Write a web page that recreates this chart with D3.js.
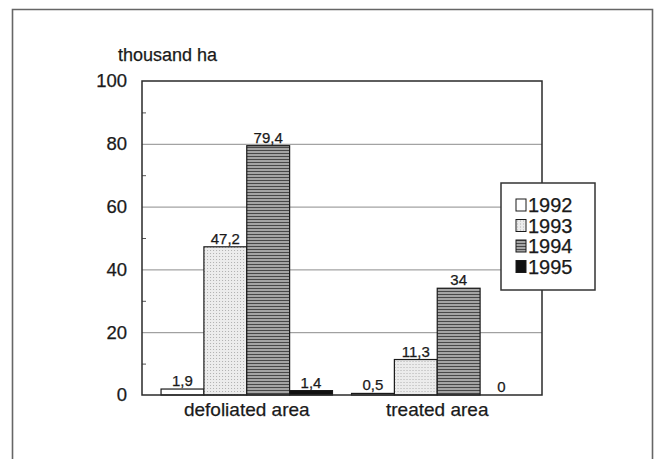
<!DOCTYPE html>
<html>
<head>
<meta charset="utf-8">
<script src="https://cdn.jsdelivr.net/npm/d3@7"></script>
<style>
  html, body { margin: 0; padding: 0; background: #fff; }
  svg { display: block; }
  text { font-family: "Liberation Sans", Arial, sans-serif; fill: #1a1a1a; stroke: #1a1a1a; stroke-width: 0.25px; }
</style>
</head>
<body>
<svg id="chart" width="663" height="459"></svg>
<script>
// Areas affected per year, thousand ha
const categories = ["defoliated area", "treated area"];
const years = ["1992", "1993", "1994", "1995"];
const values1992 = [1.9, 0.5];
const values1993 = [47.2, 11.3];
const values1994 = [79.4, 34];
const values1995 = [1.4, 0];
const yTicks = [0, 20, 40, 60, 80, 100];
const yMinorTicks = [10, 30, 50, 70, 90];
const unitLabel = "thousand ha";

const seriesValues = [values1992, values1993, values1994, values1995];
const rows = categories.map((c, i) => ({
  category: c,
  bars: years.map((y, j) => ({ year: y, value: seriesValues[j][i] }))
}));

const svg = d3.select("#chart");
const plot = { left: 142, right: 542, top: 81, bottom: 395 };

// Fill patterns for the four years
const defs = svg.append("defs");
const p93 = defs.append("pattern").attr("id", "fill1993")
  .attr("patternUnits", "userSpaceOnUse").attr("width", 3).attr("height", 3);
p93.append("rect").attr("width", 3).attr("height", 3).attr("fill", "#ececec");
p93.append("rect").attr("x", 1).attr("y", 1).attr("width", 1).attr("height", 1).attr("fill", "#b0b0b0");
const p94 = defs.append("pattern").attr("id", "fill1994")
  .attr("patternUnits", "userSpaceOnUse").attr("width", 4).attr("height", 3);
p94.append("rect").attr("width", 4).attr("height", 3).attr("fill", "#a4a4a4");
p94.append("rect").attr("width", 4).attr("height", 1).attr("fill", "#484848");

const fills = {
  "1992": "#ffffff",
  "1993": "url(#fill1993)",
  "1994": "url(#fill1994)",
  "1995": "#111111"
};

// Outer frame (open at the bottom edge of the page)
svg.append("path")
  .attr("d", "M12.5,470 V9.5 H652.5 V470")
  .attr("fill", "none").attr("stroke", "#666").attr("stroke-width", 1.6);

const y = d3.scaleLinear().domain([0, 100]).range([plot.bottom, plot.top]);
const x0 = d3.scaleBand().domain(categories).range([plot.left, plot.right])
  .paddingInner(0.1).paddingOuter(0.1);
const x1 = d3.scaleBand().domain(years).range([0, x0.bandwidth()]);

// Gridlines
svg.append("g").selectAll("line")
  .data(yTicks.filter(t => t > 0 && t < 100))
  .join("line")
  .attr("x1", plot.left).attr("x2", plot.right)
  .attr("y1", d => y(d) + 0.5).attr("y2", d => y(d) + 0.5)
  .attr("stroke", "#8c8c8c").attr("stroke-width", 1);

// Minor ticks on the value axis
svg.append("g").selectAll("line")
  .data(yMinorTicks)
  .join("line")
  .attr("x1", plot.left).attr("x2", plot.left + 4)
  .attr("y1", d => y(d) + 0.5).attr("y2", d => y(d) + 0.5)
  .attr("stroke", "#555").attr("stroke-width", 1);

// Bars
const groups = svg.append("g").selectAll("g")
  .data(rows).join("g")
  .attr("transform", d => `translate(${x0(d.category)},0)`);

groups.selectAll("rect")
  .data(d => d.bars.filter(b => b.value > 0))
  .join("rect")
  .attr("x", b => x1(b.year))
  .attr("y", b => y(b.value))
  .attr("width", x1.bandwidth())
  .attr("height", b => y(0) - y(b.value))
  .attr("fill", b => fills[b.year])
  .attr("stroke", "#1a1a1a").attr("stroke-width", 1.2);

const fmt = v => String(v).replace(".", ",");
groups.selectAll("text")
  .data(d => d.bars)
  .join("text")
  .attr("x", b => x1(b.year) + x1.bandwidth() / 2)
  .attr("y", b => y(b.value) - 3)
  .attr("text-anchor", "middle")
  .attr("font-size", 15)
  .text(b => fmt(b.value));

// Plot frame
svg.append("rect")
  .attr("x", plot.left).attr("y", plot.top)
  .attr("width", plot.right - plot.left).attr("height", plot.bottom - plot.top)
  .attr("fill", "none").attr("stroke", "#2a2a2a").attr("stroke-width", 1.5);

// Value axis labels
const yAxis = svg.append("g")
  .attr("transform", `translate(${plot.left},0)`)
  .call(d3.axisLeft(y).tickValues(yTicks).tickSize(0).tickPadding(15));
yAxis.select(".domain").remove();
yAxis.selectAll("text")
  .attr("font-size", 18.5)
  .attr("font-family", "'Liberation Sans', Arial, sans-serif")
  .attr("fill", "#1a1a1a");

// Category labels
const xAxis = svg.append("g")
  .attr("transform", `translate(0,${plot.bottom})`)
  .call(d3.axisBottom(x0).tickSize(0).tickPadding(8));
xAxis.select(".domain").remove();
xAxis.selectAll("text")
  .attr("font-size", 19)
  .attr("font-family", "'Liberation Sans', Arial, sans-serif")
  .attr("fill", "#1a1a1a");

// Unit label
svg.append("text")
  .attr("x", 118).attr("y", 61)
  .attr("font-size", 18)
  .text(unitLabel);

// Legend
const legend = svg.append("g").attr("transform", "translate(501,183)");
legend.append("rect")
  .attr("width", 94).attr("height", 107)
  .attr("fill", "#fff").attr("stroke", "#333").attr("stroke-width", 1.5);
const item = legend.selectAll("g.item")
  .data(years).join("g")
  .attr("class", "item")
  .attr("transform", (d, i) => `translate(15,${22 + i * 20.5})`);
item.append("rect")
  .attr("x", 0).attr("y", -6).attr("width", 10).attr("height", 12)
  .attr("fill", d => fills[d])
  .attr("stroke", "#1a1a1a").attr("stroke-width", 1);
item.append("text")
  .attr("x", 12).attr("y", 7)
  .attr("font-size", 20)
  .text(d => d);
</script>
</body>
</html>
